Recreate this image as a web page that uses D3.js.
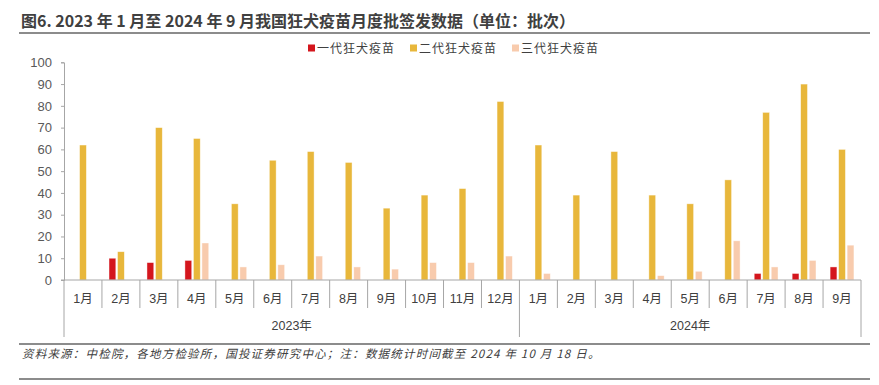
<!DOCTYPE html>
<html>
<head>
<meta charset="utf-8">
<script src="https://cdn.jsdelivr.net/npm/d3@7"></script>
<style>
  body { margin: 0; background: #fff; }
  svg { display: block; }
  text { font-family: "Liberation Sans", "Noto Sans CJK SC", sans-serif; }
  .cjk { font-family: "Noto Sans CJK SC", sans-serif; }
</style>
</head>
<body>
<svg id="chart" width="879" height="385"></svg>
<script>
// data
const months = ["1月","2月","3月","4月","5月","6月","7月","8月","9月","10月","11月","12月",
                "1月","2月","3月","4月","5月","6月","7月","8月","9月"];
const years = ["2023年", "2024年"];
const yearLen = [12, 9];
const seriesNames = ["一代狂犬疫苗", "二代狂犬疫苗", "三代狂犬疫苗"];
const gen1 = [0,10,8,9,0,0,0,0,0,0,0,0, 0,0,0,0,0,0,3,3,6];
const gen2 = [62,13,70,65,35,55,59,54,33,39,42,82, 62,39,59,39,35,46,77,90,60];
const gen3 = [0,0,0,17,6,7,11,6,5,8,8,11, 3,0,0,2,4,18,6,9,16];
const yTicks = [0,10,20,30,40,50,60,70,80,90,100];
const colors = ["#d4161d", "#e8b73b", "#f8cbad"];

const title = "图6. 2023 年 1 月至 2024 年 9 月我国狂犬疫苗月度批签发数据（单位：批次）";
const source = "资料来源：中检院，各地方检验所，国投证券研究中心；注：数据统计时间截至 2024 年 10 月 18 日。";

const svg = d3.select("#chart");
const plotL = 64, plotR = 861, plotT = 62.3, plotB = 280;
const lineColor = "#a6a6a6";

// title + rules
svg.append("text").attr("class", "cjk")
  .attr("x", 21).attr("y", 26.5)
  .attr("font-size", 16).attr("font-weight", "bold").attr("fill", "#404040")
  .text(title);
[33, 344, 379].forEach(yy => {
  svg.append("line").attr("x1", 19).attr("x2", 870).attr("y1", yy).attr("y2", yy)
    .attr("stroke", "#8c8c8c").attr("stroke-width", 2);
});
svg.append("text").attr("class", "cjk")
  .attr("x", 22).attr("y", 358)
  .attr("font-size", 11.5).attr("font-style", "italic").attr("letter-spacing", 1.2)
  .attr("fill", "#404040")
  .text(source);

// scales
const x0 = d3.scaleBand().domain(d3.range(months.length)).range([plotL, plotR]).padding(0);
const x1 = d3.scaleBand().domain(d3.range(3)).range([0, x0.bandwidth()])
  .paddingInner(0.2).paddingOuter(0.83);
const y = d3.scaleLinear().domain([0, 100]).range([plotB, plotT]);

// y axis
const yAxis = svg.append("g").attr("transform", `translate(${plotL},0)`)
  .call(d3.axisLeft(y).tickValues(yTicks).tickSize(3).tickPadding(9));
yAxis.select(".domain").attr("stroke", lineColor);
yAxis.selectAll(".tick line").attr("stroke", lineColor);
yAxis.selectAll(".tick text").attr("font-size", 13).attr("fill", "#595959")
  .attr("font-family", "Liberation Sans, sans-serif");

// bars
const allSeries = [gen1, gen2, gen3];
const groups = svg.append("g").selectAll("g")
  .data(months.map((m, i) => ({ i, vals: allSeries.map(s => s[i]) })))
  .join("g")
  .attr("transform", d => `translate(${x0(d.i)},0)`);
groups.selectAll("rect")
  .data(d => d.vals.map((v, k) => ({ k, v })).filter(e => e.v > 0))
  .join("rect")
  .attr("x", e => x1(e.k))
  .attr("width", x1.bandwidth())
  .attr("y", e => y(e.v))
  .attr("height", e => y(0) - y(e.v))
  .attr("fill", e => colors[e.k])
  .attr("stroke", "#fff")
  .attr("stroke-opacity", 0.6)
  .attr("stroke-width", 0.7);

// x axis (two levels)
const xg = svg.append("g");
xg.append("line").attr("x1", plotL - 3).attr("x2", plotR).attr("y1", plotB).attr("y2", plotB)
  .attr("stroke", lineColor);
const yearBounds = [0];
yearLen.forEach(n => yearBounds.push(yearBounds[yearBounds.length - 1] + n));
d3.range(months.length + 1).forEach(i => {
  const xx = i < months.length ? x0(i) : plotR;
  const tall = yearBounds.includes(i);
  xg.append("line").attr("x1", xx).attr("x2", xx)
    .attr("y1", plotB).attr("y2", tall ? 337 : 308)
    .attr("stroke", lineColor);
});
xg.selectAll(".mlab").data(months).join("text")
  .attr("class", "mlab")
  .attr("x", (d, i) => x0(i) + x0.bandwidth() / 2)
  .attr("y", 302.5)
  .attr("text-anchor", "middle")
  .attr("font-size", 12.5).attr("fill", "#404040")
  .text(d => d);
xg.selectAll(".ylab").data(years).join("text")
  .attr("class", "ylab")
  .attr("x", (d, i) => {
    const a = x0(yearBounds[i]);
    const b = yearBounds[i + 1] < months.length ? x0(yearBounds[i + 1]) : plotR;
    return (a + b) / 2;
  })
  .attr("y", 330)
  .attr("text-anchor", "middle")
  .attr("font-size", 12.5).attr("fill", "#404040")
  .text(d => d);

// legend
const legendX = [308, 410, 512];
const lg = svg.append("g");
seriesNames.forEach((name, k) => {
  lg.append("rect").attr("x", legendX[k]).attr("y", 44.5).attr("width", 7).attr("height", 7)
    .attr("fill", colors[k]);
  lg.append("text").attr("class", "cjk")
    .attr("x", legendX[k] + 9).attr("y", 52.5)
    .attr("font-size", 12).attr("letter-spacing", 1).attr("fill", "#404040")
    .text(name);
});
</script>
</body>
</html>
